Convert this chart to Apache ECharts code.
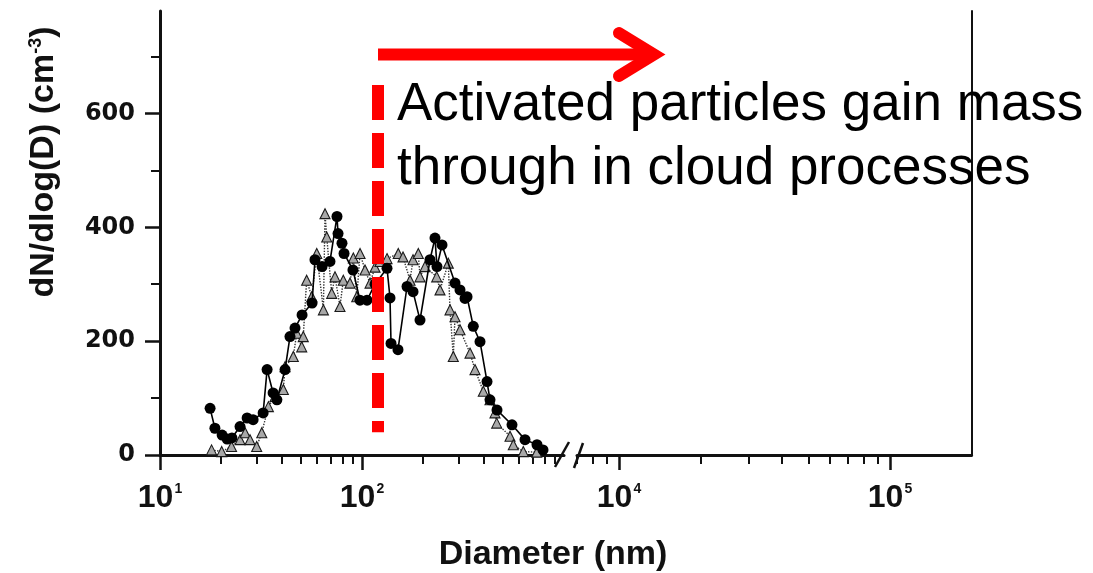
<!DOCTYPE html>
<html>
<head>
<meta charset="utf-8">
<script src="https://cdn.jsdelivr.net/npm/echarts@6/dist/echarts.min.js"></script>
<style>
  html, body { margin: 0; padding: 0; background: #ffffff; }
  #chart { width: 1093px; height: 573px; }
</style>
</head>
<body>
<div id="chart"></div>
<script>
// Size distribution, circles: diameter (nm) and dN/dlog(D) (cm^-3)
const circleDiameters = [17.7, 18.7, 20.3, 21.5, 22.7, 24.9, 27.0, 28.9, 32.4, 33.9, 36.3, 37.9, 41.6, 44.0, 46.6,
  50.5, 56.6, 58.5, 63.4, 69.4, 75.2, 76.1, 79.6, 81.5, 90.2, 97.7, 105.9, 116, 133, 137.6, 139.2, 150.7, 167.1,
  178.9, 193.7, 217.1, 229.8, 235.1, 248.9, 288.7, 305.6, 323.6, 331.1, 355.6, 383.9, 415.8, 430.2, 466, 552.8,
  641.2, 735.1, 787];
const circleCounts = [82, 47, 35, 28, 30, 50, 65, 62, 74, 150, 109, 97, 150, 208, 223,
  246, 267, 343, 331, 340, 419, 389, 372, 354, 325, 272, 272, 300, 328, 276, 196, 185, 296,
  287, 237, 343, 381, 331, 369, 302, 290, 275, 278, 226, 199, 129, 97, 79, 53,
  27, 18, 9];

// Size distribution, triangles
const triangleDiameters = [18.0, 20.2, 22.6, 24.9, 26.4, 27.9, 30.1, 31.9, 34.4, 37.1, 40.8, 41.6, 45.7, 47.5,
  50.3, 51.2, 53.2, 56.4, 59.7, 64.4, 65.6, 66.9, 70.8, 73.5, 77.8, 80.8, 87.2, 90.6, 94.2, 97.8, 103.5, 109.6,
  116, 122.8, 133, 151.2, 159.6, 172.9, 178.9, 190, 193.7, 205.1, 234.3, 243.3, 267.5, 272.7, 283.1, 288.7,
  305.6, 342.5, 362.6, 398.6, 430.2, 455.4, 464.3, 540.5, 561.1, 628.8, 732.9];
const triangleCounts = [9, 6, 15, 27, 39, 27, 15, 39, 85, 103, 115, 155, 173, 214,
  190, 208, 307, 278, 354, 255, 424, 383, 284, 313, 261, 307, 302, 346, 278, 354, 325, 302,
  330, 340, 345, 354, 348, 307, 343, 354, 313, 331, 313, 290, 337, 255, 173, 243,
  220, 179, 150, 112, 97, 74, 56, 33, 18, 6, 5];

// Axis ticks
const yMajorTicks = [0, 200, 400, 600];
const yMinorTicks = [100, 300, 500, 700];
const yMax = 780;
const lowRange = [10, 1000];
const lowMajorTicks = [10, 100];
const lowMinorTicks = [20, 30, 40, 50, 60, 70, 80, 90, 200, 300, 400, 500, 600, 700, 800, 900];
const highRange = [7000, 200000];
const highMajorTicks = [1e4, 1e5];
const highMinorTicks = [7000, 8000, 9000, 2e4, 3e4, 4e4, 5e4, 6e4, 7e4, 8e4, 9e4];

// Activation diameter (nm) and its note
const activationDiameter = 120;
const activationSpan = [650, 40];
const noteLines = ['Activated particles gain mass', 'through in cloud processes'];

const lg = Math.log10;
const INK = '#111111';
const RED = '#ff0000';
const SANS = '"Liberation Sans", Arial, sans-serif';

// decade scale: 202 px per decade below the break, 271 px per decade above it
const PX_LOW = 202, PX_HIGH = 271;
const lowLeft = 160;
const lowWidth = (lg(lowRange[1]) - lg(lowRange[0])) * PX_LOW;
const highLeft = 577;
const highWidth = (lg(highRange[1]) - lg(highRange[0])) * PX_HIGH;
const plotTop = 11, plotHeight = 444;

const gridAt = (left, width) => ({ left: left, width: width, top: plotTop, height: plotHeight,
  containLabel: false, outerBoundsMode: 'none' });

const powerLabel = {
  formatter: v => '{b|10}{s|' + Math.round(v) + '}',
  margin: 27,
  rich: {
    b: { fontFamily: SANS, fontWeight: 'bold', fontSize: 32, lineHeight: 32, color: INK },
    s: { fontFamily: SANS, fontWeight: 'bold', fontSize: 14, lineHeight: 14, color: INK,
         verticalAlign: 'top', padding: [0, 0, 12, 1] }
  }
};

function xAxisFor(gridIndex, range, ticks, major) {
  return {
    gridIndex: gridIndex, type: 'value', position: 'bottom',
    min: lg(range[0]), max: lg(range[1]),
    axisLine: { show: major, onZero: false, lineStyle: { color: INK, width: 3 } },
    axisTick: { show: true, inside: false, customValues: ticks.map(lg), length: major ? 15 : 9,
                lineStyle: { color: INK, width: major ? 2.5 : 2 } },
    axisLabel: major ? Object.assign({ show: true, customValues: ticks.map(lg) }, powerLabel) : { show: false },
    splitLine: { show: false }
  };
}

function yAxisFor(gridIndex, opts) {
  return Object.assign({
    gridIndex: gridIndex, type: 'value', min: 0, max: yMax,
    splitLine: { show: false }
  }, opts);
}

const option = {
  animation: false,
  backgroundColor: '#ffffff',
  grid: [
    gridAt(lowLeft, lowWidth),
    gridAt(lowLeft, lowWidth),
    gridAt(highLeft, highWidth),
    gridAt(highLeft, highWidth)
  ],
  xAxis: [
    xAxisFor(0, lowRange, lowMajorTicks, true),
    xAxisFor(1, lowRange, lowMinorTicks, false),
    xAxisFor(2, highRange, highMajorTicks, true),
    xAxisFor(3, highRange, highMinorTicks, false)
  ],
  yAxis: [
    yAxisFor(0, {
      position: 'left',
      axisLine: { show: true, onZero: false, lineStyle: { color: INK, width: 3 } },
      axisTick: { show: true, customValues: yMajorTicks, length: 15, lineStyle: { color: INK, width: 2.5 } },
      axisLabel: { show: true, customValues: yMajorTicks, margin: 25, color: INK,
                   fontFamily: '"DejaVu Sans", sans-serif', fontWeight: 'bold', fontSize: 24 }
    }),
    yAxisFor(1, {
      position: 'left',
      axisLine: { show: false },
      axisTick: { show: true, customValues: yMinorTicks, length: 9, lineStyle: { color: INK, width: 2 } },
      axisLabel: { show: false }
    }),
    yAxisFor(2, {
      position: 'right',
      axisLine: { show: true, onZero: false, lineStyle: { color: INK, width: 2 } },
      axisTick: { show: false },
      axisLabel: { show: false }
    }),
    yAxisFor(3, { show: false })
  ],
  series: [
    {
      name: 'triangles', type: 'line', xAxisIndex: 0, yAxisIndex: 0,
      data: triangleDiameters.map((d, i) => [lg(d), triangleCounts[i]]),
      symbol: 'triangle', symbolSize: 10, showSymbol: true,
      lineStyle: { color: '#333333', width: 1.4, type: 'dotted' },
      itemStyle: { color: '#a8a8a8', borderColor: '#1a1a1a', borderWidth: 1.1 },
      z: 2
    },
    {
      name: 'circles', type: 'line', xAxisIndex: 0, yAxisIndex: 0,
      data: circleDiameters.map((d, i) => [lg(d), circleCounts[i]]),
      symbol: 'circle', symbolSize: 11, showSymbol: true,
      lineStyle: { color: '#000000', width: 1.6 },
      itemStyle: { color: '#000000', borderColor: '#000000', borderWidth: 0 },
      z: 3,
      markLine: {
        silent: true, symbol: ['none', 'none'], z: 10,
        label: { show: false },
        lineStyle: { color: RED, width: 12, type: [35, 13], cap: 'butt' },
        data: [[
          { coord: [lg(activationDiameter), activationSpan[0]] },
          { coord: [lg(activationDiameter), activationSpan[1]] }
        ]]
      }
    }
  ],
  graphic: [
    // y axis title
    {
      type: 'text', x: 44, y: 162, rotation: Math.PI / 2, z: 20,
      style: {
        text: 'dN/dlog(D) (cm{s|-3})',
        fill: INK, font: 'bold 34px ' + SANS, align: 'center', verticalAlign: 'middle',
        rich: { s: { fontFamily: SANS, fontWeight: 'bold', fontSize: 18, lineHeight: 18,
                     verticalAlign: 'top', fill: INK } }
      }
    },
    // x axis title
    {
      type: 'text', x: 553, y: 555, z: 20,
      style: { text: 'Diameter (nm)', fill: INK, font: 'bold 34px ' + SANS, align: 'center', verticalAlign: 'middle' }
    },
    // axis break marks
    { type: 'line', z: 20, shape: { x1: 555, y1: 467, x2: 569, y2: 442 }, style: { stroke: INK, lineWidth: 2.5 } },
    { type: 'line', z: 20, shape: { x1: 574, y1: 468, x2: 583, y2: 443 }, style: { stroke: INK, lineWidth: 2.5 } },
    // growth arrow
    { type: 'line', z: 30, shape: { x1: 378, y1: 54.5, x2: 650, y2: 54.5 },
      style: { stroke: RED, lineWidth: 12, lineCap: 'butt' } },
    { type: 'polyline', z: 30, shape: { points: [[619, 33], [654, 54.5], [619, 76]] },
      style: { stroke: RED, fill: null, lineWidth: 12, lineCap: 'round', lineJoin: 'miter' } },
    // note
    {
      type: 'text', x: 397, y: 73, z: 30,
      style: { text: noteLines.join('\n'), fill: '#000000', font: '53px ' + SANS, lineHeight: 64,
               align: 'left', verticalAlign: 'top' }
    }
  ]
};

const chart = echarts.init(document.getElementById('chart'), null, { renderer: 'canvas' });
chart.setOption(option);
</script>
</body>
</html>
